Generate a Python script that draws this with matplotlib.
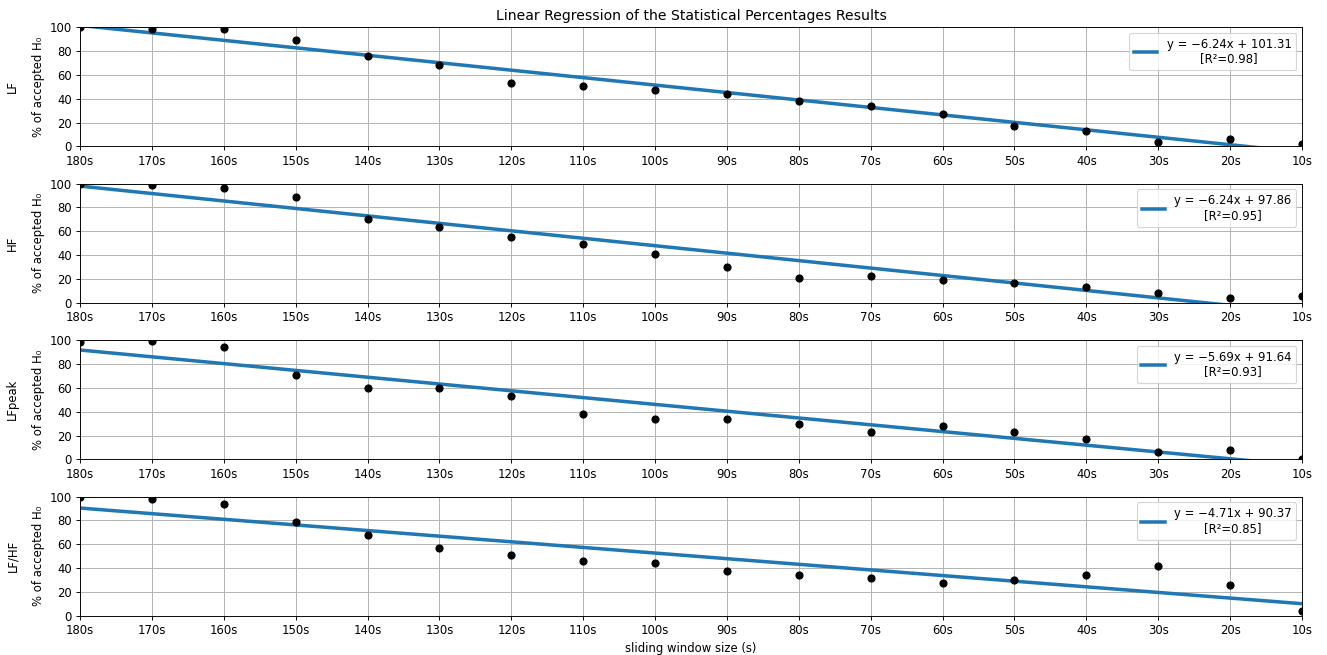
import numpy as np
import matplotlib
matplotlib.use('Agg')
import matplotlib.pyplot as plt

windows = ['180s', '170s', '160s', '150s', '140s', '130s', '120s', '110s', '100s',
           '90s', '80s', '70s', '60s', '50s', '40s', '30s', '20s', '10s']
names = ['LF', 'HF', 'LFpeak', 'LF/HF']

lf     = [100, 98, 98, 89, 76, 68, 53, 51, 47, 44, 38, 34, 27, 17, 13, 4, 6, 2]
hf     = [100, 99, 96, 89, 70, 64, 55, 49, 41, 30, 21, 23, 19, 17, 13, 8, 4, 6]
lfpeak = [98, 99, 94, 71, 60, 60, 53, 38, 34, 34, 30, 23, 28, 23, 17, 6, 8, 0]
lfhf   = [100, 98, 94, 79, 68, 57, 51, 46, 44, 38, 34, 32, 28, 30, 34, 42, 26, 4]

slopes = [-6.24, -6.24, -5.69, -4.71]
intercepts = [101.31, 97.86, 91.64, 90.37]
r2 = [0.98, 0.95, 0.93, 0.85]

series = [lf, hf, lfpeak, lfhf]

dpi = 84
fig, axs = plt.subplots(4, 1, figsize=(1327/dpi, 655/dpi), dpi=dpi)
fig.subplots_adjust(left=80/1327, right=1302/1327, top=1-27/655, bottom=1-616/655,
                    hspace=0.31)

x = np.arange(len(windows))
for i, ax in enumerate(axs):
    ax.scatter(x, series[i], color='black', zorder=3)
    yfit = slopes[i]*x + intercepts[i]
    lbl = 'y = \u2212%.2fx + %.2f\n[R\u00b2=%.2f]' % (-slopes[i], intercepts[i], r2[i])
    ax.plot(x, yfit, color='#1f77b4', lw=3, label=lbl)
    ax.set_xlim(0, len(windows)-1)
    ax.set_ylim(0, 100)
    ax.set_xticks(x)
    ax.set_xticklabels(windows)
    ax.set_yticks([0, 20, 40, 60, 80, 100])
    ax.grid(True)
    ax.set_axisbelow(True)
    ax.set_ylabel(names[i] + '\n\n% of accepted H\u2080', linespacing=1.0)
    leg = ax.legend(loc='upper right')
    for t in leg.get_texts():
        t.set_multialignment('center')

axs[0].set_title('Linear Regression of the Statistical Percentages Results')
axs[-1].set_xlabel('sliding window size (s)')

plt.savefig('out.png', dpi=dpi)
